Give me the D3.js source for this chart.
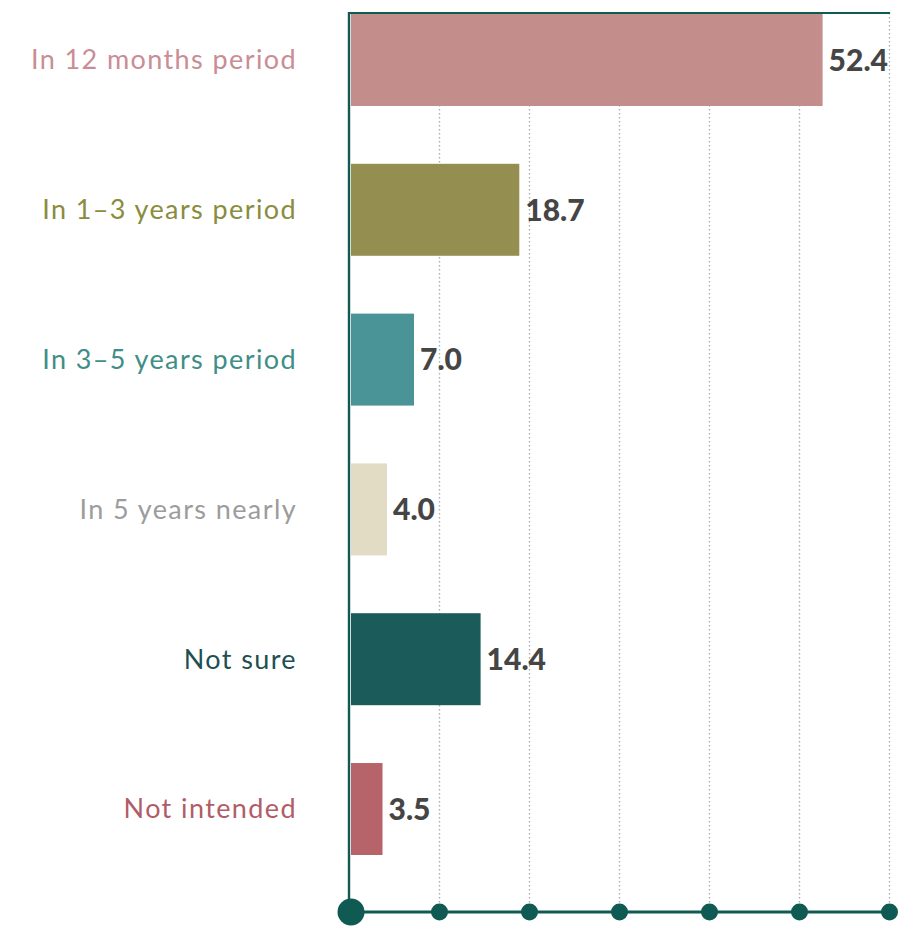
<!DOCTYPE html>
<html>
<head>
<meta charset="utf-8">
<script src="https://cdn.jsdelivr.net/npm/d3@7"></script>
<style>
  html, body { margin: 0; padding: 0; background: #ffffff; }
  svg { display: block; }
</style>
</head>
<body>
<svg id="chart" width="899" height="930"></svg>
<script>
// Survey answers: expected timing, share of respondents (%)
const categories = [
  "In 12 months period",
  "In 1\u20133 years period",
  "In 3\u20135 years period",
  "In 5 years nearly",
  "Not sure",
  "Not intended"
];
const values = [52.4, 18.7, 7.0, 4.0, 14.4, 3.5];
const barColors = ["#c38d8c", "#948f50", "#4a9497", "#e3dcc4", "#1b5b59", "#b7636a"];
const labelColors = ["#c98d96", "#8a8c3e", "#3f8e88", "#9c9c9c", "#1f4f52", "#b25c68"];
const tickValues = [0, 10, 20, 30, 40, 50, 60];

const svg = d3.select("#chart");
const axisColor = "#0f5a52";

const x = d3.scaleLinear().domain([0, 60]).range([351, 891]);
const y = d3.scaleBand().domain(categories).range([14, 855]).paddingInner(0.386).paddingOuter(0);
const axisY = 912;
const topY = 13;

// dotted vertical gridlines
svg.append("g")
  .selectAll("line")
  .data(tickValues.slice(1))
  .join("line")
  .attr("x1", d => x(d) - 1.5).attr("x2", d => x(d) - 1.5)
  .attr("y1", topY).attr("y2", axisY)
  .attr("stroke", "#a9aeb3")
  .attr("stroke-width", 1.4)
  .attr("stroke-dasharray", "1.4,2.6");

// bars
svg.append("g")
  .selectAll("rect")
  .data(values)
  .join("rect")
  .attr("x", x(0))
  .attr("y", (d, i) => y(categories[i]))
  .attr("width", d => x(d) - x(0))
  .attr("height", y.bandwidth())
  .attr("fill", (d, i) => barColors[i]);

// frame: top rule and left axis line
svg.append("line")
  .attr("x1", x(0) - 2).attr("x2", x(60) - 1)
  .attr("y1", topY).attr("y2", topY)
  .attr("stroke", axisColor).attr("stroke-width", 2.2);
svg.append("line")
  .attr("x1", x(0) - 2).attr("x2", x(0) - 2)
  .attr("y1", topY - 1).attr("y2", axisY)
  .attr("stroke", axisColor).attr("stroke-width", 2.4);

// bottom axis with dot markers
svg.append("line")
  .attr("x1", x(0)).attr("x2", x(60) - 1)
  .attr("y1", axisY).attr("y2", axisY)
  .attr("stroke", axisColor).attr("stroke-width", 3);
svg.append("g")
  .selectAll("circle")
  .data(tickValues)
  .join("circle")
  .attr("cx", d => d === 0 ? x(0) : x(d) - 1.5)
  .attr("cy", axisY)
  .attr("r", d => d === 0 ? 13.5 : 8.5)
  .attr("fill", axisColor);

// category labels
svg.append("g")
  .selectAll("text")
  .data(categories)
  .join("text")
  .attr("x", 297)
  .attr("y", d => y(d) + y.bandwidth() / 2)
  .attr("dy", "0.35em")
  .attr("text-anchor", "end")
  .attr("font-family", "Lato, sans-serif")
  .attr("font-size", 27)
  .attr("letter-spacing", 1.4)
  .attr("fill", (d, i) => labelColors[i])
  .text(d => d);

// value labels
svg.append("g")
  .selectAll("text")
  .data(values)
  .join("text")
  .attr("x", d => x(d) + 6)
  .attr("y", (d, i) => y(categories[i]) + y.bandwidth() / 2)
  .attr("dy", "0.36em")
  .attr("font-family", "Lato, sans-serif")
  .attr("font-weight", 900)
  .attr("font-size", 30)
  .attr("fill", "#454545")
  .text(d => d.toFixed(1));
</script>
</body>
</html>
